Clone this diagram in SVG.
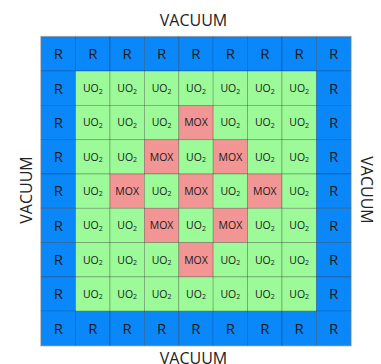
<svg xmlns="http://www.w3.org/2000/svg" width="381" height="364" viewBox="0 0 381 364">
  <style>
    .cell { stroke: rgba(0,0,0,0.28); stroke-width: 0.8; }
    .r { fill: #0a88fa; }
    .u { fill: #9cfb98; }
    .m { fill: #f29695; }
    .lbl { font-family: "Open Sans", "DejaVu Sans", sans-serif; fill: #1a1a1a; text-anchor: middle; }
    .rt { font-size: 15px; }
    .ut { font-size: 10.5px; }
    .sub { font-size: 7px; }
    .mt { font-size: 10.5px; }
    .vac { font-family: "Open Sans", "DejaVu Sans", sans-serif; font-size: 16px; fill: #222; text-anchor: middle; }
  </style>
  <defs>
    <rect id="sq" width="34.4" height="34.3"/>
  </defs>

  <!-- outer frame -->
  <rect x="40.7" y="36.3" width="310.6" height="309.7" fill="none" stroke="#c8c8c8" stroke-width="1"/>

  <!-- row 0 -->
  <g id="c00"><use href="#sq" x="41.2" y="36.8" class="cell r"/><text class="lbl rt" x="58.4" y="59.2">R</text></g>
  <g id="c01"><use href="#sq" x="75.6" y="36.8" class="cell r"/><text class="lbl rt" x="92.8" y="59.2">R</text></g>
  <g id="c02"><use href="#sq" x="110.0" y="36.8" class="cell r"/><text class="lbl rt" x="127.2" y="59.2">R</text></g>
  <g id="c03"><use href="#sq" x="144.4" y="36.8" class="cell r"/><text class="lbl rt" x="161.6" y="59.2">R</text></g>
  <g id="c04"><use href="#sq" x="178.8" y="36.8" class="cell r"/><text class="lbl rt" x="196.0" y="59.2">R</text></g>
  <g id="c05"><use href="#sq" x="213.2" y="36.8" class="cell r"/><text class="lbl rt" x="230.4" y="59.2">R</text></g>
  <g id="c06"><use href="#sq" x="247.6" y="36.8" class="cell r"/><text class="lbl rt" x="264.8" y="59.2">R</text></g>
  <g id="c07"><use href="#sq" x="282.0" y="36.8" class="cell r"/><text class="lbl rt" x="299.2" y="59.2">R</text></g>
  <g id="c08"><use href="#sq" x="316.4" y="36.8" class="cell r"/><text class="lbl rt" x="333.6" y="59.2">R</text></g>

  <!-- row 1 -->
  <g id="c10"><use href="#sq" x="41.2" y="71.1" class="cell r"/><text class="lbl rt" x="58.4" y="93.5">R</text></g>
  <g id="c11"><use href="#sq" x="75.6" y="71.1" class="cell u"/><text class="lbl ut" x="92.8" y="92.0">UO<tspan class="sub" dy="1.5">2</tspan></text></g>
  <g id="c12"><use href="#sq" x="110.0" y="71.1" class="cell u"/><text class="lbl ut" x="127.2" y="92.0">UO<tspan class="sub" dy="1.5">2</tspan></text></g>
  <g id="c13"><use href="#sq" x="144.4" y="71.1" class="cell u"/><text class="lbl ut" x="161.6" y="92.0">UO<tspan class="sub" dy="1.5">2</tspan></text></g>
  <g id="c14"><use href="#sq" x="178.8" y="71.1" class="cell u"/><text class="lbl ut" x="196.0" y="92.0">UO<tspan class="sub" dy="1.5">2</tspan></text></g>
  <g id="c15"><use href="#sq" x="213.2" y="71.1" class="cell u"/><text class="lbl ut" x="230.4" y="92.0">UO<tspan class="sub" dy="1.5">2</tspan></text></g>
  <g id="c16"><use href="#sq" x="247.6" y="71.1" class="cell u"/><text class="lbl ut" x="264.8" y="92.0">UO<tspan class="sub" dy="1.5">2</tspan></text></g>
  <g id="c17"><use href="#sq" x="282.0" y="71.1" class="cell u"/><text class="lbl ut" x="299.2" y="92.0">UO<tspan class="sub" dy="1.5">2</tspan></text></g>
  <g id="c18"><use href="#sq" x="316.4" y="71.1" class="cell r"/><text class="lbl rt" x="333.6" y="93.5">R</text></g>

  <!-- row 2 -->
  <g id="c20"><use href="#sq" x="41.2" y="105.4" class="cell r"/><text class="lbl rt" x="58.4" y="127.8">R</text></g>
  <g id="c21"><use href="#sq" x="75.6" y="105.4" class="cell u"/><text class="lbl ut" x="92.8" y="126.3">UO<tspan class="sub" dy="1.5">2</tspan></text></g>
  <g id="c22"><use href="#sq" x="110.0" y="105.4" class="cell u"/><text class="lbl ut" x="127.2" y="126.3">UO<tspan class="sub" dy="1.5">2</tspan></text></g>
  <g id="c23"><use href="#sq" x="144.4" y="105.4" class="cell u"/><text class="lbl ut" x="161.6" y="126.3">UO<tspan class="sub" dy="1.5">2</tspan></text></g>
  <g id="c24"><use href="#sq" x="178.8" y="105.4" class="cell m"/><text class="lbl mt" x="196.0" y="126.3">MOX</text></g>
  <g id="c25"><use href="#sq" x="213.2" y="105.4" class="cell u"/><text class="lbl ut" x="230.4" y="126.3">UO<tspan class="sub" dy="1.5">2</tspan></text></g>
  <g id="c26"><use href="#sq" x="247.6" y="105.4" class="cell u"/><text class="lbl ut" x="264.8" y="126.3">UO<tspan class="sub" dy="1.5">2</tspan></text></g>
  <g id="c27"><use href="#sq" x="282.0" y="105.4" class="cell u"/><text class="lbl ut" x="299.2" y="126.3">UO<tspan class="sub" dy="1.5">2</tspan></text></g>
  <g id="c28"><use href="#sq" x="316.4" y="105.4" class="cell r"/><text class="lbl rt" x="333.6" y="127.8">R</text></g>

  <!-- row 3 -->
  <g id="c30"><use href="#sq" x="41.2" y="139.7" class="cell r"/><text class="lbl rt" x="58.4" y="162.1">R</text></g>
  <g id="c31"><use href="#sq" x="75.6" y="139.7" class="cell u"/><text class="lbl ut" x="92.8" y="160.6">UO<tspan class="sub" dy="1.5">2</tspan></text></g>
  <g id="c32"><use href="#sq" x="110.0" y="139.7" class="cell u"/><text class="lbl ut" x="127.2" y="160.6">UO<tspan class="sub" dy="1.5">2</tspan></text></g>
  <g id="c33"><use href="#sq" x="144.4" y="139.7" class="cell m"/><text class="lbl mt" x="161.6" y="160.6">MOX</text></g>
  <g id="c34"><use href="#sq" x="178.8" y="139.7" class="cell u"/><text class="lbl ut" x="196.0" y="160.6">UO<tspan class="sub" dy="1.5">2</tspan></text></g>
  <g id="c35"><use href="#sq" x="213.2" y="139.7" class="cell m"/><text class="lbl mt" x="230.4" y="160.6">MOX</text></g>
  <g id="c36"><use href="#sq" x="247.6" y="139.7" class="cell u"/><text class="lbl ut" x="264.8" y="160.6">UO<tspan class="sub" dy="1.5">2</tspan></text></g>
  <g id="c37"><use href="#sq" x="282.0" y="139.7" class="cell u"/><text class="lbl ut" x="299.2" y="160.6">UO<tspan class="sub" dy="1.5">2</tspan></text></g>
  <g id="c38"><use href="#sq" x="316.4" y="139.7" class="cell r"/><text class="lbl rt" x="333.6" y="162.1">R</text></g>

  <!-- row 4 -->
  <g id="c40"><use href="#sq" x="41.2" y="174.0" class="cell r"/><text class="lbl rt" x="58.4" y="196.4">R</text></g>
  <g id="c41"><use href="#sq" x="75.6" y="174.0" class="cell u"/><text class="lbl ut" x="92.8" y="194.9">UO<tspan class="sub" dy="1.5">2</tspan></text></g>
  <g id="c42"><use href="#sq" x="110.0" y="174.0" class="cell m"/><text class="lbl mt" x="127.2" y="194.9">MOX</text></g>
  <g id="c43"><use href="#sq" x="144.4" y="174.0" class="cell u"/><text class="lbl ut" x="161.6" y="194.9">UO<tspan class="sub" dy="1.5">2</tspan></text></g>
  <g id="c44"><use href="#sq" x="178.8" y="174.0" class="cell m"/><text class="lbl mt" x="196.0" y="194.9">MOX</text></g>
  <g id="c45"><use href="#sq" x="213.2" y="174.0" class="cell u"/><text class="lbl ut" x="230.4" y="194.9">UO<tspan class="sub" dy="1.5">2</tspan></text></g>
  <g id="c46"><use href="#sq" x="247.6" y="174.0" class="cell m"/><text class="lbl mt" x="264.8" y="194.9">MOX</text></g>
  <g id="c47"><use href="#sq" x="282.0" y="174.0" class="cell u"/><text class="lbl ut" x="299.2" y="194.9">UO<tspan class="sub" dy="1.5">2</tspan></text></g>
  <g id="c48"><use href="#sq" x="316.4" y="174.0" class="cell r"/><text class="lbl rt" x="333.6" y="196.4">R</text></g>

  <!-- row 5 -->
  <g id="c50"><use href="#sq" x="41.2" y="208.3" class="cell r"/><text class="lbl rt" x="58.4" y="230.7">R</text></g>
  <g id="c51"><use href="#sq" x="75.6" y="208.3" class="cell u"/><text class="lbl ut" x="92.8" y="229.2">UO<tspan class="sub" dy="1.5">2</tspan></text></g>
  <g id="c52"><use href="#sq" x="110.0" y="208.3" class="cell u"/><text class="lbl ut" x="127.2" y="229.2">UO<tspan class="sub" dy="1.5">2</tspan></text></g>
  <g id="c53"><use href="#sq" x="144.4" y="208.3" class="cell m"/><text class="lbl mt" x="161.6" y="229.2">MOX</text></g>
  <g id="c54"><use href="#sq" x="178.8" y="208.3" class="cell u"/><text class="lbl ut" x="196.0" y="229.2">UO<tspan class="sub" dy="1.5">2</tspan></text></g>
  <g id="c55"><use href="#sq" x="213.2" y="208.3" class="cell m"/><text class="lbl mt" x="230.4" y="229.2">MOX</text></g>
  <g id="c56"><use href="#sq" x="247.6" y="208.3" class="cell u"/><text class="lbl ut" x="264.8" y="229.2">UO<tspan class="sub" dy="1.5">2</tspan></text></g>
  <g id="c57"><use href="#sq" x="282.0" y="208.3" class="cell u"/><text class="lbl ut" x="299.2" y="229.2">UO<tspan class="sub" dy="1.5">2</tspan></text></g>
  <g id="c58"><use href="#sq" x="316.4" y="208.3" class="cell r"/><text class="lbl rt" x="333.6" y="230.7">R</text></g>

  <!-- row 6 -->
  <g id="c60"><use href="#sq" x="41.2" y="242.6" class="cell r"/><text class="lbl rt" x="58.4" y="265.0">R</text></g>
  <g id="c61"><use href="#sq" x="75.6" y="242.6" class="cell u"/><text class="lbl ut" x="92.8" y="263.5">UO<tspan class="sub" dy="1.5">2</tspan></text></g>
  <g id="c62"><use href="#sq" x="110.0" y="242.6" class="cell u"/><text class="lbl ut" x="127.2" y="263.5">UO<tspan class="sub" dy="1.5">2</tspan></text></g>
  <g id="c63"><use href="#sq" x="144.4" y="242.6" class="cell u"/><text class="lbl ut" x="161.6" y="263.5">UO<tspan class="sub" dy="1.5">2</tspan></text></g>
  <g id="c64"><use href="#sq" x="178.8" y="242.6" class="cell m"/><text class="lbl mt" x="196.0" y="263.5">MOX</text></g>
  <g id="c65"><use href="#sq" x="213.2" y="242.6" class="cell u"/><text class="lbl ut" x="230.4" y="263.5">UO<tspan class="sub" dy="1.5">2</tspan></text></g>
  <g id="c66"><use href="#sq" x="247.6" y="242.6" class="cell u"/><text class="lbl ut" x="264.8" y="263.5">UO<tspan class="sub" dy="1.5">2</tspan></text></g>
  <g id="c67"><use href="#sq" x="282.0" y="242.6" class="cell u"/><text class="lbl ut" x="299.2" y="263.5">UO<tspan class="sub" dy="1.5">2</tspan></text></g>
  <g id="c68"><use href="#sq" x="316.4" y="242.6" class="cell r"/><text class="lbl rt" x="333.6" y="265.0">R</text></g>

  <!-- row 7 -->
  <g id="c70"><use href="#sq" x="41.2" y="276.9" class="cell r"/><text class="lbl rt" x="58.4" y="299.3">R</text></g>
  <g id="c71"><use href="#sq" x="75.6" y="276.9" class="cell u"/><text class="lbl ut" x="92.8" y="297.8">UO<tspan class="sub" dy="1.5">2</tspan></text></g>
  <g id="c72"><use href="#sq" x="110.0" y="276.9" class="cell u"/><text class="lbl ut" x="127.2" y="297.8">UO<tspan class="sub" dy="1.5">2</tspan></text></g>
  <g id="c73"><use href="#sq" x="144.4" y="276.9" class="cell u"/><text class="lbl ut" x="161.6" y="297.8">UO<tspan class="sub" dy="1.5">2</tspan></text></g>
  <g id="c74"><use href="#sq" x="178.8" y="276.9" class="cell u"/><text class="lbl ut" x="196.0" y="297.8">UO<tspan class="sub" dy="1.5">2</tspan></text></g>
  <g id="c75"><use href="#sq" x="213.2" y="276.9" class="cell u"/><text class="lbl ut" x="230.4" y="297.8">UO<tspan class="sub" dy="1.5">2</tspan></text></g>
  <g id="c76"><use href="#sq" x="247.6" y="276.9" class="cell u"/><text class="lbl ut" x="264.8" y="297.8">UO<tspan class="sub" dy="1.5">2</tspan></text></g>
  <g id="c77"><use href="#sq" x="282.0" y="276.9" class="cell u"/><text class="lbl ut" x="299.2" y="297.8">UO<tspan class="sub" dy="1.5">2</tspan></text></g>
  <g id="c78"><use href="#sq" x="316.4" y="276.9" class="cell r"/><text class="lbl rt" x="333.6" y="299.3">R</text></g>

  <!-- row 8 -->
  <g id="c80"><use href="#sq" x="41.2" y="311.2" class="cell r"/><text class="lbl rt" x="58.4" y="333.6">R</text></g>
  <g id="c81"><use href="#sq" x="75.6" y="311.2" class="cell r"/><text class="lbl rt" x="92.8" y="333.6">R</text></g>
  <g id="c82"><use href="#sq" x="110.0" y="311.2" class="cell r"/><text class="lbl rt" x="127.2" y="333.6">R</text></g>
  <g id="c83"><use href="#sq" x="144.4" y="311.2" class="cell r"/><text class="lbl rt" x="161.6" y="333.6">R</text></g>
  <g id="c84"><use href="#sq" x="178.8" y="311.2" class="cell r"/><text class="lbl rt" x="196.0" y="333.6">R</text></g>
  <g id="c85"><use href="#sq" x="213.2" y="311.2" class="cell r"/><text class="lbl rt" x="230.4" y="333.6">R</text></g>
  <g id="c86"><use href="#sq" x="247.6" y="311.2" class="cell r"/><text class="lbl rt" x="264.8" y="333.6">R</text></g>
  <g id="c87"><use href="#sq" x="282.0" y="311.2" class="cell r"/><text class="lbl rt" x="299.2" y="333.6">R</text></g>
  <g id="c88"><use href="#sq" x="316.4" y="311.2" class="cell r"/><text class="lbl rt" x="333.6" y="333.6">R</text></g>

  <!-- boundary labels -->
  <g id="vac-top"><text class="vac" x="193.5" y="26">VACUUM</text></g>
  <g id="vac-bottom"><text class="vac" x="193.5" y="363.5">VACUUM</text></g>
  <g id="vac-left"><text class="vac" transform="translate(31.5,190) rotate(-90)">VACUUM</text></g>
  <g id="vac-right"><text class="vac" transform="translate(361,190) rotate(90)">VACUUM</text></g>
</svg>
